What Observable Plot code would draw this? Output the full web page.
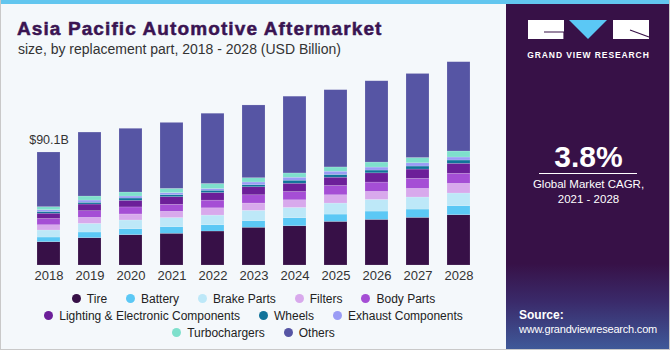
<!DOCTYPE html>
<html><head><meta charset="utf-8">
<script src="https://cdn.jsdelivr.net/npm/d3@7"></script>
<script src="https://cdn.jsdelivr.net/npm/@observablehq/plot@0.6"></script>
<style>
html,body{margin:0;padding:0;background:#f4f8fb;}
body{width:670px;height:350px;overflow:hidden;font-family:"Liberation Sans",Arial,sans-serif;}
#frame{position:relative;width:670px;height:350px;background:#f4f8fb;box-sizing:border-box;border-left:1px solid #c9c9c9;border-right:1px solid #c9c9c9;border-bottom:1px solid #c9c9c9;overflow:hidden;}
#strip{position:absolute;left:0;top:0;width:670px;height:4px;background:#62c6ef;}
#title{position:absolute;left:16px;top:19px;font-size:19px;line-height:19px;font-weight:bold;color:#3a1452;letter-spacing:1.1px;-webkit-text-stroke:0.5px #3a1452;white-space:nowrap;}
#subtitle{position:absolute;left:17px;top:42px;font-size:14px;line-height:14px;color:#333;white-space:nowrap;}
#chart{position:absolute;left:0;top:0;}
#legend{position:absolute;left:0;top:290px;width:505px;}
.lrow{display:flex;justify-content:center;height:17px;align-items:center;font-size:12px;color:#222;}
.li{display:flex;align-items:center;margin:0 9.5px;white-space:nowrap;}
.dot{width:9px;height:9px;border-radius:50%;margin-right:6px;}
#panel{position:absolute;left:505px;top:4px;width:165px;height:346px;background:linear-gradient(to bottom,#371147 0%,#371147 75%,#3a2a6a 86%,#3f5a9a 100%);color:#fff;}
#gvr{position:absolute;left:0;top:47px;width:165px;text-align:center;font-size:8.5px;font-weight:bold;letter-spacing:0.9px;line-height:9px;}
#cagr{position:absolute;left:0;top:138px;width:165px;text-align:center;font-size:30px;line-height:30px;font-weight:bold;}
#rule{position:absolute;left:33px;top:169px;width:98px;height:1px;background:#fff;}
#cagrtxt{position:absolute;left:0;top:173px;width:165px;text-align:center;font-size:11.5px;line-height:15px;}
#src{position:absolute;left:13px;top:304px;font-size:11px;line-height:14px;letter-spacing:-0.2px;}
</style></head>
<body>
<div id="frame">
  <div id="strip"></div>
  <div id="title">Asia Pacific Automotive Aftermarket</div>
  <div id="subtitle">size, by replacement part, 2018 - 2028 (USD Billion)</div>
  <div id="chart"></div>
  <div id="legend"></div>
  <div id="panel">
    <svg width="165" height="40" style="position:absolute;left:0;top:0">
      <rect x="22" y="16" width="36" height="19" fill="#fff"/>
      <path d="M38 28 H58 M58 28 V35" stroke="#371147" stroke-width="1.2" fill="none"/>
      <path d="M63 16 L101 16 L82 35 Z" fill="#5bc8f5"/>
      <rect x="107" y="16" width="36" height="19" fill="#fff"/>
      <path d="M124 26 L143 33" stroke="#371147" stroke-width="1.2" fill="none"/>
    </svg>
    <div id="gvr">GRAND VIEW RESEARCH</div>
    <div id="cagr">3.8%</div>
    <div id="rule"></div>
    <div id="cagrtxt">Global Market CAGR,<br>2021 - 2028</div>
    <div id="src"><b style="font-size:12px;letter-spacing:0">Source:</b><br>www.grandviewresearch.com</div>
  </div>
</div>
<script>
const years = ["2018","2019","2020","2021","2022","2023","2024","2025","2026","2027","2028"];
const parts = ["Tire","Battery","Brake Parts","Filters","Body Parts","Lighting & Electronic Components","Wheels","Exhaust Components","Turbochargers","Others"];
const colors = ["#371047","#5bc8f5","#bde8f8","#d8a9ec","#a54ed5","#6c1f99","#11739a","#9a9cf5","#7ee0cc","#5655a4"];

const tire      = [18.6,21.8,24.2,25.3,27.1,30.1,31.3,34.8,36.4,38.0,40.1];
const battery   = [3.7,4.5,4.8,5.3,5.0,5.3,6.4,5.8,6.6,6.6,7.2];
const brake     = [5.6,6.9,6.9,7.2,7.7,8.2,8.2,8.8,9.3,9.6,10.1];
const filters   = [4.2,4.8,4.8,5.0,5.8,5.8,6.1,6.6,6.4,6.9,7.7];
const body      = [5.0,5.3,5.6,5.6,6.1,6.6,6.6,7.4,7.4,8.0,8.0];
const lighting  = [4.2,5.3,5.3,6.1,6.1,6.4,6.6,6.6,7.4,7.4,8.0];
const wheels    = [1.4,1.4,1.8,1.6,1.8,1.6,2.4,2.2,2.2,2.4,2.6];
const exhaust   = [1.4,1.8,1.6,1.6,1.4,2.2,2.4,2.6,2.4,2.6,2.4];
const turbo     = [2.4,3.2,3.2,3.4,4.0,3.4,3.4,3.4,4.0,4.2,4.8];
const others    = [43.6,51.0,50.8,52.6,56.0,58.0,61.2,61.6,64.8,67.0,71.2];

const series = [tire,battery,brake,filters,body,lighting,wheels,exhaust,turbo,others];
const data = years.flatMap((y,i)=>parts.map((p,j)=>({year:y, part:p, value:series[j][i]})));
const total2018 = d3.sum(series, s => s[0]);

const chart = Plot.plot({
  width: 505, height: 290,
  marginLeft: 13, marginRight: 12, marginTop: 39.24, marginBottom: 25,
  style: {background:"transparent", fontFamily:"'Liberation Sans', Arial, sans-serif", fontSize:"13px", color:"#333"},
  x: {domain: years, padding: 0.4286, label: null, tickSize: 0, tickPadding: 5},
  y: {domain: [0,180], axis: null},
  color: {domain: parts, range: colors},
  marks: [
    Plot.barY(data, {x:"year", y:"value", fill:"part", stroke:"#ffffff", strokeOpacity:0.25, strokeWidth:0.6}),
    Plot.text([{year:"2018", total: total2018}], {x:"year", y:"total", text: d => `$${d.total.toFixed(1)}B`, lineAnchor:"bottom", dy:-8, fontSize:12.5, fill:"#333"})
  ]
});
document.getElementById("chart").appendChild(chart);

const rows = [[0,1,2,3,4],[5,6,7],[8,9]];
const leg = document.getElementById("legend");
rows.forEach(r => {
  const row = document.createElement("div");
  row.className = "lrow";
  r.forEach(j => {
    const it = document.createElement("div");
    it.className = "li";
    const dot = document.createElement("span");
    dot.className = "dot";
    dot.style.background = colors[j];
    const t = document.createElement("span");
    t.textContent = parts[j];
    it.appendChild(dot); it.appendChild(t);
    row.appendChild(it);
  });
  leg.appendChild(row);
});
</script>
</body></html>
